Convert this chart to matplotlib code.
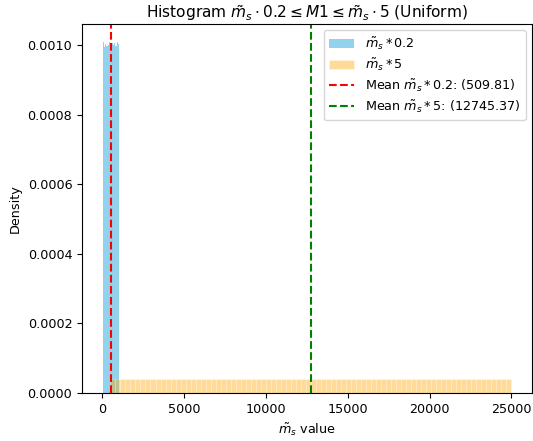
import numpy as np
import matplotlib
matplotlib.use("Agg")
import matplotlib.pyplot as plt

plt.rcParams['font.size'] = 9.2

# Estimated bin densities
low_range = (20.0, 1000.0)
high_range = (500.0, 25000.0)
low_density = [
    0.000998, 0.001008, 0.000994, 0.001003, 0.001010, 0.000999, 0.000990, 0.001004, 0.001007, 0.000996,
    0.001002, 0.000999, 0.001009, 0.000995, 0.001003, 0.001006, 0.001000, 0.000991, 0.001004, 0.000998,
    0.001007, 0.000995, 0.001002, 0.001011, 0.000999, 0.001003, 0.000994, 0.001006, 0.000998, 0.001002,
    0.000995, 0.001007, 0.001003, 0.000999, 0.001010, 0.000994, 0.001002, 0.000998, 0.001006, 0.001003,
    0.000999, 0.000994, 0.001003, 0.001006, 0.000999, 0.001009, 0.001002, 0.000995, 0.000999, 0.001007,
    0.001003, 0.000999, 0.000994, 0.001006, 0.001002, 0.001010, 0.000998, 0.000995, 0.001003, 0.001007,
    0.000999, 0.001002, 0.000994, 0.001006, 0.000999, 0.001003, 0.001009, 0.000995, 0.001002, 0.000998,
    0.001006, 0.000994, 0.001003, 0.000999, 0.001010, 0.001002, 0.000995, 0.001007, 0.000998, 0.001003,
]
high_density = [
    4.08e-5, 4.10e-5, 4.06e-5, 4.09e-5, 4.07e-5, 4.11e-5, 4.08e-5, 4.05e-5, 4.09e-5, 4.10e-5,
    4.07e-5, 4.08e-5, 4.10e-5, 4.06e-5, 4.09e-5, 4.08e-5, 4.11e-5, 4.07e-5, 4.08e-5, 4.09e-5,
    4.06e-5, 4.10e-5, 4.08e-5, 4.07e-5, 4.09e-5, 4.11e-5, 4.08e-5, 4.06e-5, 4.09e-5, 4.08e-5,
    4.10e-5, 4.07e-5, 4.08e-5, 4.09e-5, 4.06e-5, 4.10e-5, 4.08e-5, 4.07e-5, 4.09e-5, 4.11e-5,
    4.08e-5, 4.06e-5, 4.09e-5, 4.08e-5, 4.10e-5, 4.07e-5, 4.08e-5, 4.09e-5, 4.06e-5, 4.10e-5,
    4.08e-5, 4.07e-5, 4.09e-5, 4.11e-5, 4.08e-5, 4.06e-5, 4.09e-5, 4.08e-5, 4.10e-5, 4.07e-5,
    4.08e-5, 4.09e-5, 4.06e-5, 4.10e-5, 4.08e-5, 4.07e-5, 4.09e-5, 4.11e-5, 4.08e-5, 4.06e-5,
    4.09e-5, 4.08e-5, 4.10e-5, 4.07e-5, 4.08e-5, 4.09e-5, 4.06e-5, 4.10e-5, 4.08e-5, 4.07e-5,
]
mean_low = 509.81
mean_high = 12745.37

fig, ax = plt.subplots(figsize=(5.33, 4.41), dpi=100)

low_edges = np.linspace(low_range[0], low_range[1], len(low_density) + 1)
high_edges = np.linspace(high_range[0], high_range[1], len(high_density) + 1)
low_centers = (low_edges[:-1] + low_edges[1:]) / 2
high_centers = (high_edges[:-1] + high_edges[1:]) / 2

ax.hist(low_centers, bins=low_edges, weights=low_density, color='skyblue',
        alpha=0.9, label=r'$\tilde{m}_s * 0.2$')
ax.hist(high_centers, bins=high_edges, weights=high_density, color='orange',
        alpha=0.4, edgecolor=(1, 1, 1, 0.5), linewidth=0.4,
        label=r'$\tilde{m}_s * 5$')
ax.axvline(mean_low, color='red', linestyle='--',
           label=r'Mean $\tilde{m}_s * 0.2$: (%.2f)' % mean_low)
ax.axvline(mean_high, color='green', linestyle='--',
           label=r'Mean $\tilde{m}_s * 5$: (%.2f)' % mean_high)

ax.set_title(r'Histogram $\tilde{m}_s \cdot 0.2 \leq M1 \leq \tilde{m}_s \cdot 5$ (Uniform)', pad=4)
ax.set_xlabel(r'$\tilde{m}_s$ value')
ax.set_ylabel('Density')
ax.legend(loc='upper right', labelspacing=0.35)

fig.subplots_adjust(left=0.154, right=0.998, top=0.946, bottom=0.109)
fig.savefig('out.png', dpi=100)
